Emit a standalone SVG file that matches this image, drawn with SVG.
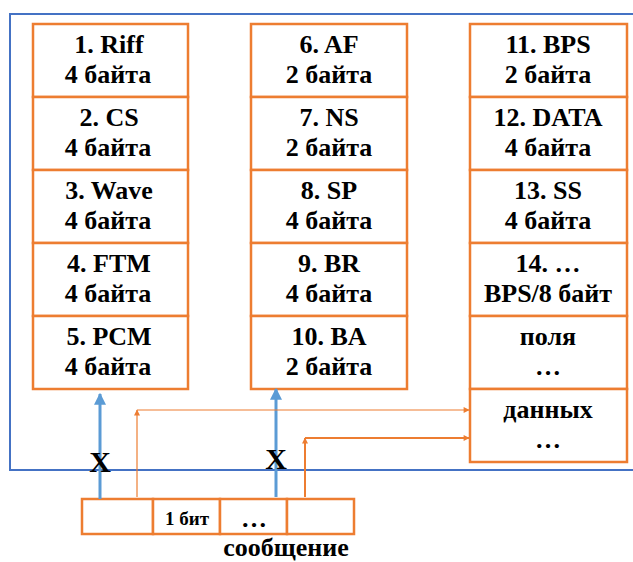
<svg xmlns="http://www.w3.org/2000/svg" width="633" height="562" viewBox="0 0 633 562">
<defs>
<style>
.c{fill:#fff;stroke:#ED7D31;stroke-width:2.5}
text{font-family:'Liberation Serif','Times New Roman','DejaVu Serif',serif;font-weight:bold;font-size:26px;fill:#000;text-anchor:middle}
.s{font-size:19px}
.x{font-size:30px}
.b{stroke:#5B9BD5;stroke-width:3;fill:none}
.o{stroke:#ED7D31;fill:none}
</style>
<marker id="ab" viewBox="0 0 10 10" refX="9" refY="5" markerWidth="4" markerHeight="4" orient="auto"><path d="M0,0L10,5L0,10z" fill="#5B9BD5"/></marker>
<marker id="ao" viewBox="0 0 10 10" refX="9" refY="5" markerWidth="8" markerHeight="6" markerUnits="userSpaceOnUse" orient="auto"><path d="M0,0L10,5L0,10z" fill="#ED7D31"/></marker>
</defs>
<rect x="10" y="14" width="640" height="456" fill="none" stroke="#4472C4" stroke-width="2"/>
<g id="col1">
<g id="n1"><rect class="c" x="33" y="24" width="155" height="73"/><text x="109" y="53">1. Riff</text><text x="108" y="83">4 байта</text></g>
<g id="n2"><rect class="c" x="33" y="97" width="155" height="73"/><text x="109" y="126">2. CS</text><text x="108" y="156">4 байта</text></g>
<g id="n3"><rect class="c" x="33" y="170" width="155" height="73"/><text x="109" y="199">3. Wave</text><text x="108" y="229">4 байта</text></g>
<g id="n4"><rect class="c" x="33" y="243" width="155" height="73"/><text x="109" y="272">4. FTM</text><text x="108" y="302">4 байта</text></g>
<g id="n5"><rect class="c" x="33" y="316" width="155" height="73"/><text x="109" y="345">5. PCM</text><text x="108" y="375">4 байта</text></g>
</g>
<g id="col2">
<g id="n6"><rect class="c" x="251" y="24" width="156" height="73"/><text x="329" y="53">6. AF</text><text x="329" y="83">2 байта</text></g>
<g id="n7"><rect class="c" x="251" y="97" width="156" height="73"/><text x="329" y="126">7. NS</text><text x="329" y="156">2 байта</text></g>
<g id="n8"><rect class="c" x="251" y="170" width="156" height="73"/><text x="329" y="199">8. SP</text><text x="329" y="229">4 байта</text></g>
<g id="n9"><rect class="c" x="251" y="243" width="156" height="73"/><text x="329" y="272">9. BR</text><text x="329" y="302">4 байта</text></g>
<g id="n10"><rect class="c" x="251" y="316" width="156" height="73"/><text x="329" y="345">10. BA</text><text x="329" y="375">2 байта</text></g>
</g>
<g id="col3">
<g id="n11"><rect class="c" x="470" y="24" width="157" height="73"/><text x="548" y="53">11. BPS</text><text x="548" y="83">2 байта</text></g>
<g id="n12"><rect class="c" x="470" y="97" width="157" height="73"/><text x="548" y="126">12. DATA</text><text x="548" y="156">4 байта</text></g>
<g id="n13"><rect class="c" x="470" y="170" width="157" height="73"/><text x="548" y="199">13. SS</text><text x="548" y="229">4 байта</text></g>
<g id="n14"><rect class="c" x="470" y="243" width="157" height="73"/><text x="548" y="272">14. …</text><text x="548" y="302">BPS/8 байт</text></g>
<g id="n15"><rect class="c" x="470" y="316" width="157" height="73"/><text x="548" y="345">поля</text><text x="548" y="375">…</text></g>
<g id="n16"><rect class="c" x="470" y="389" width="157" height="73"/><text x="548" y="418">данных</text><text x="548" y="448">…</text></g>
</g>
<g id="msg">
<rect class="c" x="82" y="499" width="71" height="35"/>
<rect class="c" x="153" y="499" width="67" height="35"/>
<rect class="c" x="220" y="499" width="67" height="35"/>
<rect class="c" x="287" y="499" width="67" height="35"/>
<text class="s" x="187" y="525">1 бит</text>
<text x="254" y="527">…</text>
<text x="286" y="556">сообщение</text>
</g>
<g id="connectors">
<line class="b" x1="100" y1="499" x2="100" y2="394" marker-end="url(#ab)"/>
<line class="b" x1="276" y1="497" x2="276" y2="389" marker-end="url(#ab)"/>
<line class="o" stroke-width="1.2" x1="137" y1="497" x2="137" y2="410" marker-end="url(#ao)"/>
<line class="o" stroke-width="1.2" x1="137" y1="410" x2="469" y2="410" marker-end="url(#ao)"/>
<line class="o" stroke-width="2" x1="305" y1="497" x2="305" y2="438" marker-end="url(#ao)"/>
<line class="o" stroke-width="2" x1="305" y1="438" x2="469" y2="438" marker-end="url(#ao)"/>
<text class="x" x="100" y="472">X</text>
<text class="x" x="276" y="469">X</text>
</g>
</svg>
